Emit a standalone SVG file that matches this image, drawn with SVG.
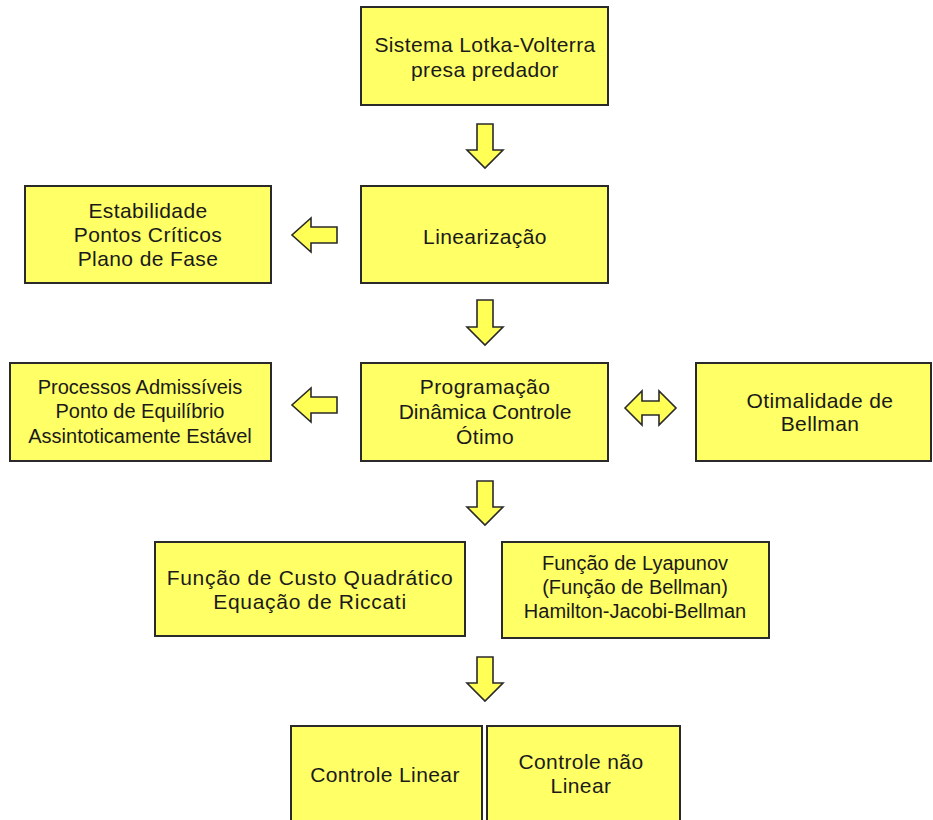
<svg xmlns="http://www.w3.org/2000/svg" width="933" height="820" viewBox="0 0 933 820">
<style>
.box{fill:#FFFF66;stroke:#2a2a2a;stroke-width:2}
.arr{fill:#FFFF55;stroke:#2a2a2a;stroke-width:1.6;stroke-linejoin:miter}
text{font-family:"Liberation Sans",Arial,sans-serif;font-size:21px;letter-spacing:0.4px;fill:#1a1a1a;text-anchor:middle}
.sm{font-size:20px;letter-spacing:0}
</style>
<rect width="933" height="820" fill="#ffffff"/>
<g id="n-sistema"><rect class="box" x="361" y="7" width="247" height="98"/>
<text x="485" y="52">Sistema Lotka-Volterra</text><text x="485" y="77">presa predador</text></g>
<g id="n-estabilidade"><rect class="box" x="25" y="186" width="246" height="97"/>
<text x="148" y="218">Estabilidade</text><text x="148" y="242">Pontos Críticos</text><text x="148" y="266">Plano de Fase</text></g>
<g id="n-linearizacao"><rect class="box" x="361" y="186" width="247" height="97"/>
<text x="485" y="244">Linearização</text></g>
<g id="n-processos"><rect class="box" x="10" y="363" width="261" height="98"/>
<text class="sm" x="140" y="394">Processos Admissíveis</text><text class="sm" x="140" y="418">Ponto de Equilíbrio</text><text class="sm" x="140" y="443">Assintoticamente Estável</text></g>
<g id="n-programacao"><rect class="box" x="361" y="363" width="247" height="98"/>
<text x="485" y="394">Programação</text><text x="485" y="419" style="letter-spacing:0">Dinâmica Controle</text><text x="485" y="444">Ótimo</text></g>
<g id="n-otimalidade"><rect class="box" x="696" y="363" width="235" height="98"/>
<text x="820" y="408">Otimalidade de</text><text x="820" y="431">Bellman</text></g>
<g id="n-custo"><rect class="box" x="155" y="542" width="310" height="94"/>
<text x="310" y="585" style="letter-spacing:0.7px">Função de Custo Quadrático</text><text x="310" y="609" style="letter-spacing:0.7px">Equação de Riccati</text></g>
<g id="n-lyapunov"><rect class="box" x="502" y="542" width="267" height="96"/>
<text class="sm" x="635" y="570">Função de Lyapunov</text><text class="sm" x="635" y="594">(Função de Bellman)</text><text class="sm" x="635" y="618">Hamilton-Jacobi-Bellman</text></g>
<g id="n-linear"><rect class="box" x="291" y="726" width="191" height="110"/>
<text x="385" y="782">Controle Linear</text></g>
<g id="n-naolinear"><rect class="box" x="487" y="726" width="193" height="110"/>
<text x="581" y="769">Controle não</text><text x="581" y="793">Linear</text></g>
<g id="connectors">
<path class="arr" d="M477,124 H493 V150 H503 L485,168 L467,150 H477 Z"/>
<path class="arr" d="M477,300 H493 V327 H503 L485,345 L467,327 H477 Z"/>
<path class="arr" d="M477,481 H493 V507 H503 L485,525 L467,507 H477 Z"/>
<path class="arr" d="M477,657 H493 V683 H503 L485,701 L467,683 H477 Z"/>
<path class="arr" d="M337,227 V243 H311 V252 L292,235 L311,218 V227 Z"/>
<path class="arr" d="M337,397 V413 H311 V422 L292,405 L311,388 V397 Z"/>
<path class="arr" d="M625,408 L642,391 V401 H659 V391 L676,408 L659,425 V415 H642 V425 Z"/>
</g>
</svg>
